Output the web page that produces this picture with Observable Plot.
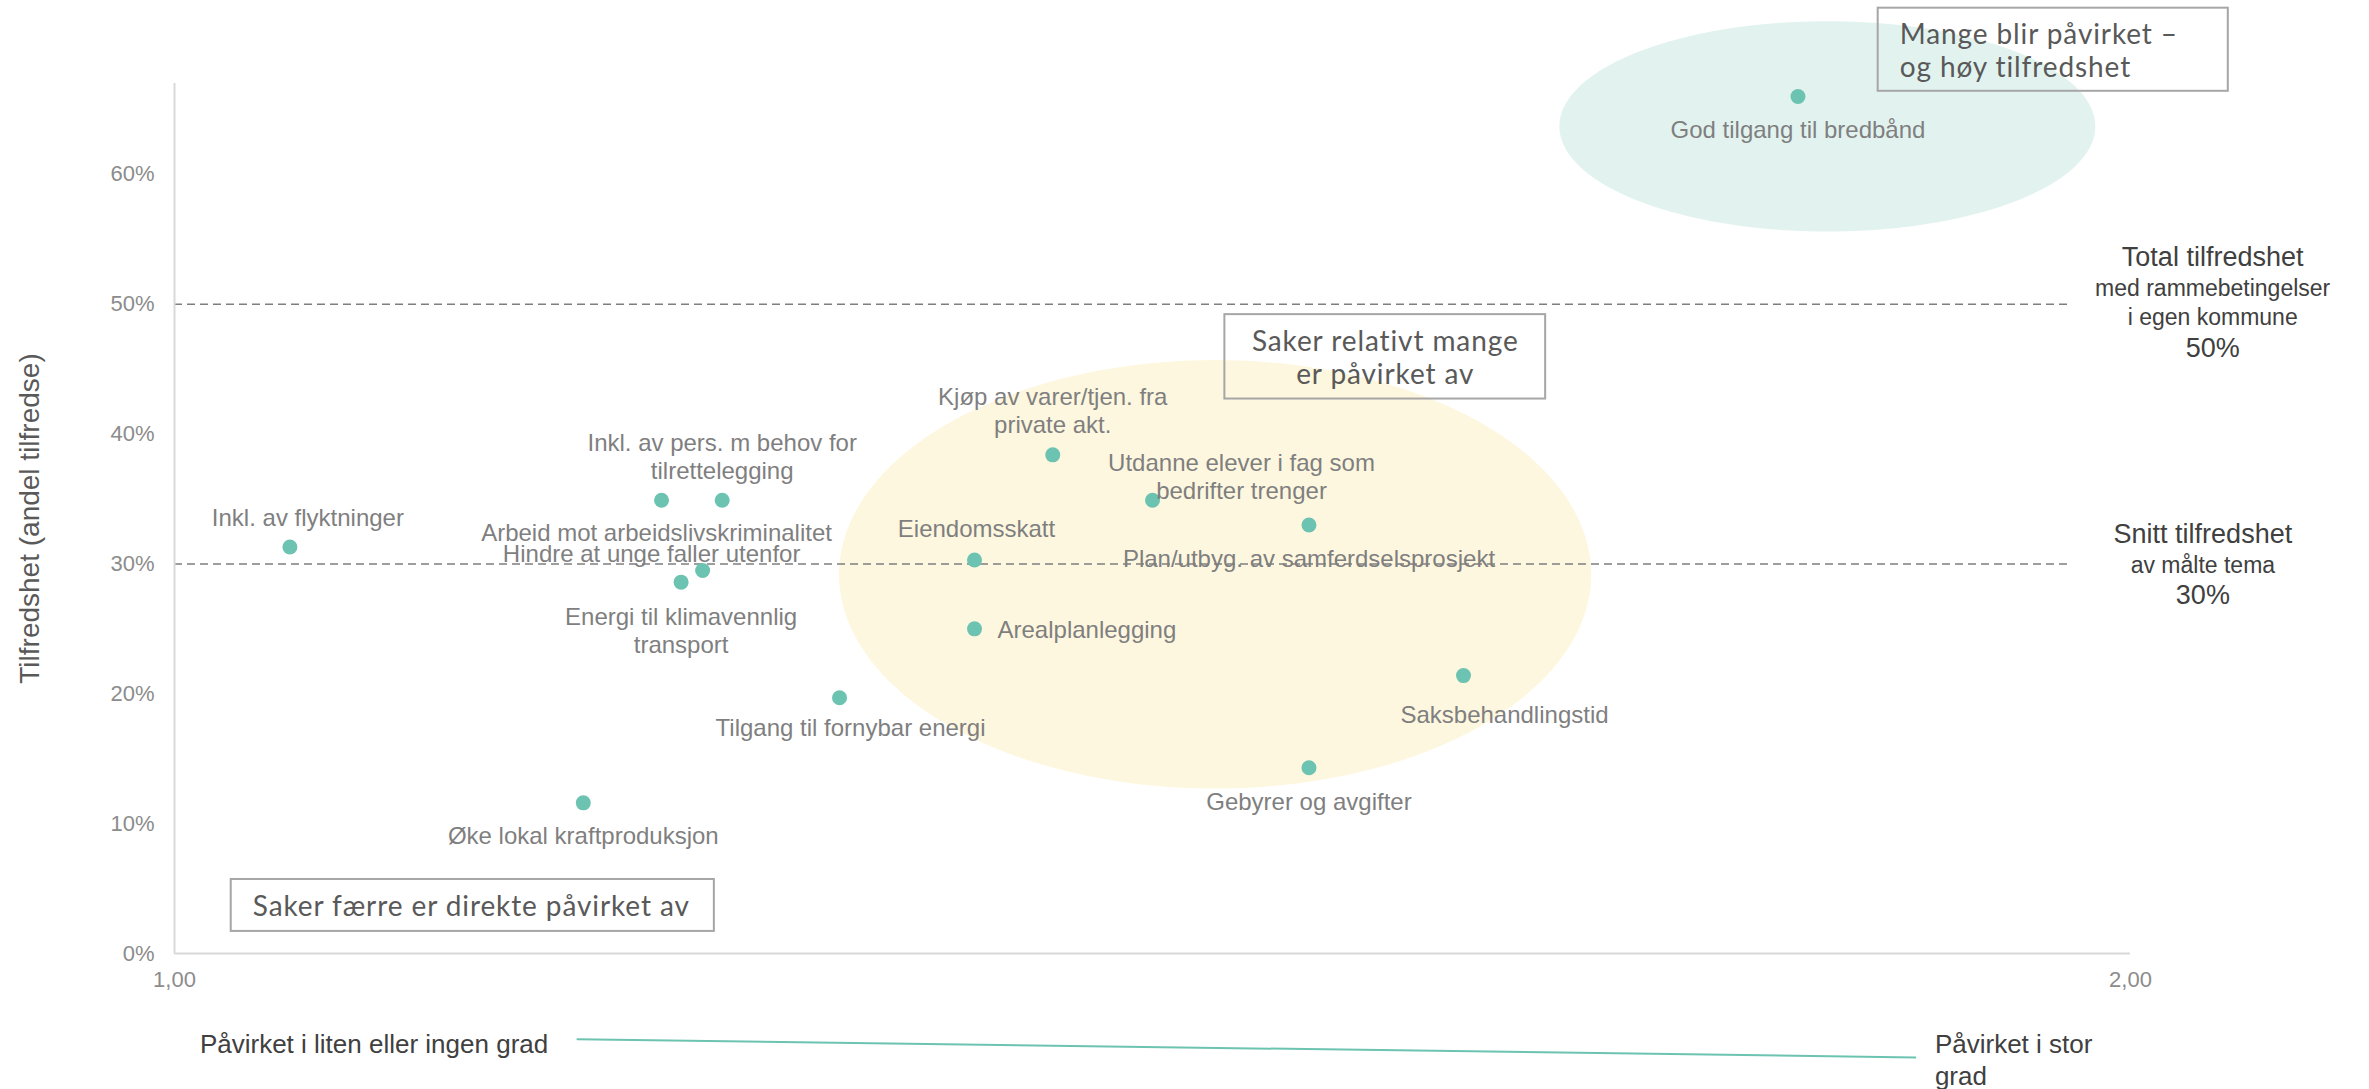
<!DOCTYPE html>
<html><head><meta charset="utf-8">
<script src="https://cdn.jsdelivr.net/npm/d3@7"></script>
<script src="https://cdn.jsdelivr.net/npm/@observablehq/plot@0.6"></script>
<style>body{margin:0;background:#fff;} svg{overflow:visible}</style>
</head><body><div id="chart"></div>
<script>
// ---- data ----
const topics = ["Inkl. av flyktninger", "Inkl. av pers. m behov for\ntilrettelegging", "Arbeid mot arbeidslivskriminalitet", "Hindre at unge faller utenfor", "Energi til klimavennlig\ntransport", "Tilgang til fornybar energi", "Øke lokal kraftproduksjon", "Eiendomsskatt", "Arealplanlegging", "Kjøp av varer/tjen. fra\nprivate akt.", "Utdanne elever i fag som\nbedrifter trenger", "Plan/utbyg. av samferdselsprosjekt", "Saksbehandlingstid", "Gebyrer og avgifter", "God tilgang til bredbånd"];
const impact = [1.059, 1.280, 1.249, 1.270, 1.259, 1.340, 1.209, 1.409, 1.409, 1.449, 1.500, 1.580, 1.659, 1.580, 1.830];
const satisfaction = [0.313, 0.349, 0.349, 0.295, 0.286, 0.197, 0.116, 0.303, 0.250, 0.384, 0.349, 0.330, 0.214, 0.143, 0.660];

const xTicks = [1, 2];
const yTicks = [0, 0.1, 0.2, 0.3, 0.4, 0.5, 0.6];

const refValues = [0.5, 0.3];
const refTitles = ["Total tilfredshet", "Snitt tilfredshet"];
const refSubtitles = ["med rammebetingelser\ni egen kommune", "av målte tema"];
const refValueLabels = ["50%", "30%"];

const groupNames = ["Saker relativt mange", "Mange blir påvirket"];
const groupCenterX = [1.532, 1.845];
const groupCenterY = [0.292, 0.637];
const groupRadiusX = [0.1923, 0.137];
const groupRadiusY = [0.165, 0.081];

const boxTexts = ["Mange blir påvirket –\nog høy tilfredshet", "Saker relativt mange\ner påvirket av", "Saker færre er direkte påvirket av"];
const boxX1 = [1.871, 1.537, 1.029];
const boxX2 = [2.050, 1.701, 1.276];
const boxY1 = [0.664, 0.427, 0.017];
const boxY2 = [0.728, 0.492, 0.057];

const scaleLabels = ["Påvirket i liten eller ingen grad", "Påvirket i stor\ngrad"];

// ---- layout (positions/styles kept separate) ----
const labelLayout = [
  [18, -30, "middle"], [0, -44, "middle"], [-5, 32, "middle"], [-51, -17, "middle"], [0, 48, "middle"],
  [11, 29, "middle"], [0, 32, "middle"], [2, -32, "middle"], [23, 0, "start"], [0, -45, "middle"],
  [89, -24, "middle"], [0, 33, "middle"], [41, 38, "middle"], [0, 33, "middle"], [0, 33, "middle"]
];
const refEndX = 1.968;
const refTextX = [2.042, 2.037];
const refTitleY = [0.536, 0.323];
const refSubY = [0.502, 0.300];
const refValY = [0.466, 0.276];
const boxTextX = [1.882, 1.619, 1.040];
const boxTextAnchor = ["start", "middle", "start"];
const scaleLabelX = [1.013, 1.900];
const scaleLabelY = [-0.069, -0.081];
const scaleLineX = [1.206, 1.890];
const scaleLineY = [-0.066, -0.080];

const points = topics.map((t, i) => ({topic: t, x: impact[i], y: satisfaction[i]}));

function ellipse(i) {
  const pts = [];
  for (let k = 0; k < 180; k++) {
    const a = (k / 180) * 2 * Math.PI;
    pts.push({x: groupCenterX[i] + groupRadiusX[i] * Math.cos(a), y: groupCenterY[i] + groupRadiusY[i] * Math.sin(a)});
  }
  return pts;
}
const ellipseFill = ["#fef7df", "#e2f3ef"];

const FONT = "'Liberation Sans', Arial, sans-serif";
const BOXFONT = "'Century Gothic', 'URW Gothic', Lato, 'Open Sans', sans-serif";

const marks = [];
groupNames.forEach((g, i) => marks.push(Plot.line(ellipse(i), {x: "x", y: "y", curve: "linear-closed", fill: ellipseFill[i], stroke: "none"})));
marks.push(Plot.ruleY(refValues, {x1: 1, x2: refEndX, stroke: "#7f7f7f", strokeWidth: 1.5, strokeDasharray: "8,5"}));
marks.push(Plot.ruleX([1], {y1: 0, y2: 0.67, stroke: "#d9d9d9", strokeWidth: 2}));
marks.push(Plot.ruleY([0], {x1: 1, x2: 2, stroke: "#d9d9d9", strokeWidth: 2}));
marks.push(Plot.axisX({ticks: xTicks, tickFormat: d => d.toFixed(2).replace(".", ","), tickSize: 0, tickPadding: 18, fontSize: 22, color: "#8c8c8c", label: null}));
marks.push(Plot.axisY({ticks: yTicks, tickFormat: d3.format(".0%"), tickSize: 0, tickPadding: 20, fontSize: 22, color: "#8c8c8c", label: null}));
marks.push(Plot.text(["Tilfredshet (andel tilfredse)"], {frameAnchor: "left", textAnchor: "middle", dx: -144, rotate: -90, fontSize: 28, fill: "#595959"}));
boxTexts.forEach((t, i) => {
  marks.push(Plot.rect([i], {x1: boxX1[i], x2: boxX2[i], y1: boxY1[i], y2: boxY2[i], fill: "none", stroke: "#a6a6a6", strokeWidth: 2}));
  marks.push(Plot.text([t], {x: boxTextX[i], y: (boxY1[i] + boxY2[i]) / 2, textAnchor: boxTextAnchor[i], fontSize: 28, fill: "#595959", fontFamily: BOXFONT, lineHeight: 1.2}));
});
marks.push(Plot.dot(points, {x: "x", y: "y", r: 7.5, fill: "#6dc3b1", stroke: "none"}));
points.forEach((p, i) => {
  const [dx, dy, anchor] = labelLayout[i];
  marks.push(Plot.text([p], {x: "x", y: "y", text: "topic", dx, dy, textAnchor: anchor, fontSize: 24, fill: "#7f7f7f", lineHeight: 1.17}));
});
refValues.forEach((v, i) => {
  marks.push(Plot.text([refTitles[i]], {x: refTextX[i], y: refTitleY[i], fontSize: 27, fill: "#404040"}));
  marks.push(Plot.text([refSubtitles[i]], {x: refTextX[i], y: refSubY[i], fontSize: 23, fill: "#404040", lineHeight: 1.25}));
  marks.push(Plot.text([refValueLabels[i]], {x: refTextX[i], y: refValY[i], fontSize: 27, fill: "#404040"}));
});
scaleLabels.forEach((t, i) => marks.push(Plot.text([t], {x: scaleLabelX[i], y: scaleLabelY[i], textAnchor: "start", fontSize: 26, fill: "#404040", lineHeight: 1.22})));
marks.push(Plot.line(scaleLineX.map((x, i) => ({x, y: scaleLineY[i]})), {x: "x", y: "y", stroke: "#6dc3b1", strokeWidth: 2}));

const chart = Plot.plot({
  width: 2369, height: 1089,
  marginLeft: 174, marginRight: 239, marginTop: 83, marginBottom: 136,
  x: {domain: [1, 2]},
  y: {domain: [0, 0.67]},
  style: {fontFamily: FONT, background: "white", overflow: "visible"},
  marks
});
d3.select(chart).selectAll("g[font-family*='Century']").attr("letter-spacing", "0.9");
document.getElementById("chart").append(chart);
</script>
</body></html>
